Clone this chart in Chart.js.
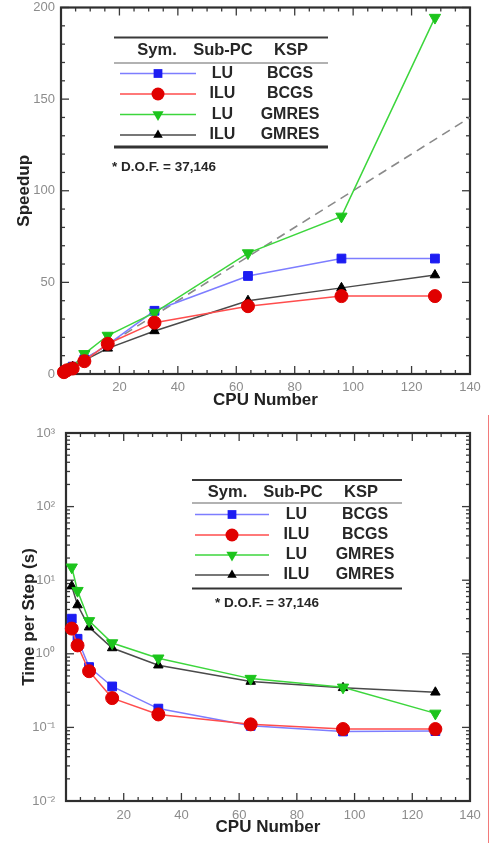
<!DOCTYPE html>
<html>
<head>
<meta charset="utf-8">
<title>Speedup and time per step</title>
<script src="https://cdn.jsdelivr.net/npm/chart.js@4.4.0/dist/chart.umd.min.js"></script>
<style>
    html, body { margin: 0; padding: 0; background: #fff; }
    #wrap { position: relative; width: 491px; height: 843px; overflow: hidden; }
    #speedup-box { position: absolute; left: 0; top: 0; width: 491px; height: 420px; }
    #time-box { position: absolute; left: 0; top: 420px; width: 491px; height: 423px; }
    .edge-mark { position: absolute; left: 488px; top: 415px; width: 1px; height: 428px; background: #f27a7a; }
</style>
</head>
<body>
<div id="wrap">
    <div id="speedup-box"><canvas id="speedupChart" width="491" height="420"></canvas></div>
    <div id="time-box"><canvas id="timeChart" width="491" height="423"></canvas></div>
    <div class="edge-mark"></div>
</div>
<script>
// Values
const cpuSpeedup = [1, 2, 4, 8, 16, 32, 64, 96, 128];
const luBcgsSpeedup = [1, 2, 4, 8, 16, 34.5, 53.5, 63, 63];
const iluBcgsSpeedup = [1, 2, 3, 7, 16.5, 28, 37, 42.5, 42.5];
const luGmresSpeedup = [1, 2, 4, 11, 21, 33.5, 66, 86, 194.5];
const iluGmresSpeedup = [1, 2, 4, 7.5, 14, 23.5, 40, 47, 54];
const idealCpu = [0, 140];
const idealSpeedup = [0, 140];

const cpuTime = [2, 4, 8, 16, 32, 64, 96, 128];
const luBcgsTime = [3.0, 1.6, 0.66, 0.36, 0.18, 0.105, 0.088, 0.089];
const iluBcgsTime = [2.2, 1.3, 0.58, 0.25, 0.15, 0.11, 0.095, 0.095];
const luGmresTime = [15, 7.2, 2.8, 1.4, 0.87, 0.46, 0.35, 0.155];
const iluGmresTime = [8.3, 4.6, 2.3, 1.2, 0.7, 0.42, 0.345, 0.30];

const subPcLabels = ['LU', 'ILU', 'LU', 'ILU'];
const kspLabels = ['BCGS', 'BCGS', 'GMRES', 'GMRES'];
const dofNote = '* D.O.F. = 37,146';

const xTickValues = [20, 40, 60, 80, 100, 120, 140];
const speedupTickValues = [0, 50, 100, 150, 200];
const timeTickValues = [0.01, 0.1, 1, 10, 100, 1000];
const timeTickLabels = ['10⁻²', '10⁻¹', '10⁰', '10¹', '10²', '10³'];

// Styles for the four series (same in both plots)
const seriesStyles = [
    { line: '#7d7dff', mark: '#1c1cf2', point: 'rect', radius: 6.2, rotation: 0, order: 3 },
    { line: '#ff4d4d', mark: '#e00000', point: 'circle', radius: 6.5, rotation: 0, order: 0 },
    { line: '#3cd63c', mark: '#1cc41c', point: 'triangle', radius: 6.5, rotation: 180, order: 1 },
    { line: '#4a4a4a', mark: '#000000', point: 'triangle', radius: 5.5, rotation: 0, order: 2 }
];

const FONT = '"Liberation Sans", Arial, Helvetica, sans-serif';
Chart.defaults.font.family = FONT;

function pairs(xs, ys) {
    return xs.map((x, i) => ({ x: x, y: ys[i] }));
}

function makeSeries(xs, lists) {
    return lists.map((ys, i) => {
        const s = seriesStyles[i];
        return {
            data: pairs(xs, ys),
            borderColor: s.line,
            borderWidth: 1.5,
            pointStyle: s.point,
            pointRadius: s.radius,
            pointRotation: s.rotation,
            pointBackgroundColor: s.mark,
            pointBorderColor: s.mark,
            pointBorderWidth: 1,
            order: s.order,
            tension: 0,
            clip: false
        };
    });
}

function strokeLine(ctx, x1, y1, x2, y2) {
    ctx.beginPath();
    ctx.moveTo(x1, y1);
    ctx.lineTo(x2, y2);
    ctx.stroke();
}

function drawMarker(ctx, s, x, y) {
    const r = s.radius;
    ctx.fillStyle = s.mark;
    ctx.beginPath();
    if (s.point === 'circle') {
        ctx.arc(x, y, r, 0, Math.PI * 2);
    } else if (s.point === 'rect') {
        const h = r * Math.SQRT1_2;
        ctx.rect(x - h, y - h, 2 * h, 2 * h);
    } else {
        let rad = s.rotation * Math.PI / 180;
        ctx.moveTo(x + Math.sin(rad) * r, y - Math.cos(rad) * r);
        for (let k = 0; k < 2; k++) {
            rad += 2 * Math.PI / 3;
            ctx.lineTo(x + Math.sin(rad) * r, y - Math.cos(rad) * r);
        }
        ctx.closePath();
    }
    ctx.fill();
}

// Frame with inward major/minor ticks on all four sides
const frameTicks = {
    id: 'frameTicks',
    beforeDatasetsDraw(chart, args, opts) {
        const { ctx, chartArea: a } = chart;
        const xs = chart.scales.x;
        const ys = chart.scales.y;
        ctx.save();
        ctx.strokeStyle = '#3a3a3a';
        ctx.lineWidth = 1.3;

        for (let v = 0; v <= opts.xMax; v += opts.xStep) {
            const px = xs.getPixelForValue(v);
            const len = v % opts.xMajor === 0 ? 8 : 4;
            strokeLine(ctx, px, a.bottom, px, a.bottom - len);
            strokeLine(ctx, px, a.top, px, a.top + len);
        }

        const yMarks = [];
        if (opts.yLog) {
            for (let e = opts.yMinExp; e <= opts.yMaxExp; e++) {
                yMarks.push([Math.pow(10, e), 8]);
                if (e < opts.yMaxExp) {
                    for (let m = 2; m <= 9; m++) yMarks.push([m * Math.pow(10, e), 4]);
                }
            }
        } else {
            for (let v = 0; v <= opts.yMax; v += opts.yStep) {
                yMarks.push([v, v % opts.yMajor === 0 ? 8 : 4]);
            }
        }
        yMarks.forEach(([v, len]) => {
            const py = ys.getPixelForValue(v);
            strokeLine(ctx, a.left, py, a.left + len, py);
            strokeLine(ctx, a.right, py, a.right - len, py);
        });

        ctx.lineWidth = 2.2;
        ctx.strokeStyle = '#2e2e2e';
        ctx.strokeRect(a.left, a.top, a.right - a.left, a.bottom - a.top);
        ctx.restore();
    }
};

// Table-style legend drawn inside the plot
const tableLegend = {
    id: 'tableLegend',
    afterDraw(chart, args, o) {
        const ctx = chart.ctx;
        ctx.save();
        ctx.strokeStyle = '#3a3a3a';
        ctx.lineWidth = 2;
        strokeLine(ctx, o.left, o.ruleTop, o.right, o.ruleTop);
        ctx.lineWidth = 1.2;
        ctx.strokeStyle = '#666';
        strokeLine(ctx, o.left, o.ruleHead, o.right, o.ruleHead);
        ctx.lineWidth = o.bottomWidth;
        ctx.strokeStyle = '#333';
        strokeLine(ctx, o.left, o.ruleBottom, o.right, o.ruleBottom);

        ctx.fillStyle = '#262626';
        ctx.textAlign = 'center';
        ctx.textBaseline = 'middle';
        ctx.font = 'bold 16.5px ' + FONT;
        ctx.fillText('Sym.', o.symHead, o.headerY);
        ctx.fillText('Sub-PC', o.subHead, o.headerY);
        ctx.fillText('KSP', o.kspHead, o.headerY);

        seriesStyles.forEach((s, i) => {
            const y = o.rows[i];
            ctx.strokeStyle = s.line;
            ctx.lineWidth = 1.5;
            strokeLine(ctx, o.symFrom, y, o.symTo, y);
            drawMarker(ctx, s, (o.symFrom + o.symTo) / 2, y);
            ctx.fillStyle = '#262626';
            ctx.font = 'bold 16px ' + FONT;
            ctx.fillText(subPcLabels[i], o.subX, y);
            ctx.fillText(kspLabels[i], o.kspX, y);
        });

        ctx.textAlign = 'left';
        ctx.font = 'bold 13.5px ' + FONT;
        ctx.fillText(dofNote, o.dofX, o.dofY);
        ctx.restore();
    }
};

function fixAxis(size, horizontal) {
    return function(scale) {
        if (horizontal) {
            scale.height = size;
            scale.paddingLeft = 0;
            scale.paddingRight = 0;
        } else {
            scale.width = size;
            scale.paddingTop = 0;
            scale.paddingBottom = 0;
        }
    };
}

function setTicks(values) {
    return function(scale) {
        scale.ticks = values.map(v => ({ value: v }));
    };
}

const tickFont = { size: 13 };
const tickColor = '#8c8c8c';
const titleFont = { size: 17, weight: 'bold' };
const titleColor = '#222';

// Speedup chart
const speedupSets = makeSeries(cpuSpeedup, [luBcgsSpeedup, iluBcgsSpeedup, luGmresSpeedup, iluGmresSpeedup]);
speedupSets.push({
    data: pairs(idealCpu, idealSpeedup),
    borderColor: '#8a8a8a',
    borderWidth: 1.6,
    borderDash: [9, 6],
    pointRadius: 0,
    order: 9
});

new Chart(document.getElementById('speedupChart'), {
    type: 'line',
    data: { datasets: speedupSets },
    options: {
        responsive: false,
        animation: false,
        layout: { padding: { top: 4, right: 21, left: 0, bottom: 0 } },
        plugins: {
            legend: { display: false },
            tooltip: { enabled: false },
            frameTicks: { xMax: 140, xStep: 5, xMajor: 20, yLog: false, yMax: 200, yStep: 10, yMajor: 50 },
            tableLegend: {
                left: 114, right: 328, ruleTop: 37.5, headerY: 50.5, ruleHead: 63, ruleBottom: 147, bottomWidth: 3,
                symHead: 157, subHead: 223, kspHead: 291,
                rows: [73.5, 94, 114.5, 135], symFrom: 120, symTo: 196, subX: 222.5, kspX: 290,
                dofX: 112, dofY: 167.5
            }
        },
        scales: {
            x: {
                type: 'linear', min: 0, max: 140,
                grid: { display: false, drawTicks: false },
                border: { display: false },
                afterBuildTicks: setTicks(xTickValues),
                afterFit: fixAxis(46, true),
                ticks: { font: tickFont, color: tickColor, padding: 6, maxRotation: 0 },
                title: { display: true, text: 'CPU Number', font: titleFont, color: titleColor, padding: { top: 0, bottom: 9 } }
            },
            y: {
                type: 'linear', min: 0, max: 200,
                grid: { display: false, drawTicks: false },
                border: { display: false },
                afterBuildTicks: setTicks(speedupTickValues),
                afterFit: fixAxis(61, false),
                ticks: { font: tickFont, color: tickColor, padding: 6 },
                title: { display: true, text: 'Speedup', font: titleFont, color: titleColor, padding: { top: 14, bottom: 0 } }
            }
        }
    },
    plugins: [frameTicks, tableLegend]
});

// Time per step chart
const timeSets = makeSeries(cpuTime, [luBcgsTime, iluBcgsTime, luGmresTime, iluGmresTime]);

new Chart(document.getElementById('timeChart'), {
    type: 'line',
    data: { datasets: timeSets },
    options: {
        responsive: false,
        animation: false,
        layout: { padding: { top: 13, right: 21, left: 0, bottom: 0 } },
        plugins: {
            legend: { display: false },
            tooltip: { enabled: false },
            frameTicks: { xMax: 140, xStep: 5, xMajor: 20, yLog: true, yMinExp: -2, yMaxExp: 3 },
            tableLegend: {
                left: 192, right: 402, ruleTop: 60, headerY: 72.5, ruleHead: 83, ruleBottom: 168.5, bottomWidth: 2,
                symHead: 227.5, subHead: 293, kspHead: 361,
                rows: [94.5, 115, 135, 155], symFrom: 195, symTo: 269, subX: 296.5, kspX: 365,
                dofX: 215, dofY: 183
            }
        },
        scales: {
            x: {
                type: 'linear', min: 0, max: 140,
                grid: { display: false, drawTicks: false },
                border: { display: false },
                afterBuildTicks: setTicks(xTickValues),
                afterFit: fixAxis(42, true),
                ticks: { font: tickFont, color: tickColor, padding: 7, maxRotation: 0 },
                title: { display: true, text: 'CPU Number', font: titleFont, color: titleColor, padding: { top: 0, bottom: 5 } }
            },
            y: {
                type: 'logarithmic', min: 0.01, max: 1000,
                grid: { display: false, drawTicks: false },
                border: { display: false },
                afterBuildTicks: setTicks(timeTickValues),
                afterFit: fixAxis(66, false),
                ticks: {
                    font: tickFont, color: tickColor, padding: 11,
                    callback: function(value) {
                        const i = timeTickValues.findIndex(v => Math.abs(v - value) < v * 1e-6);
                        return i >= 0 ? timeTickLabels[i] : '';
                    }
                },
                title: { display: true, text: 'Time per Step (s)', font: titleFont, color: titleColor, padding: { top: 19, bottom: 0 } }
            }
        }
    },
    plugins: [frameTicks, tableLegend]
});
</script>
</body>
</html>
